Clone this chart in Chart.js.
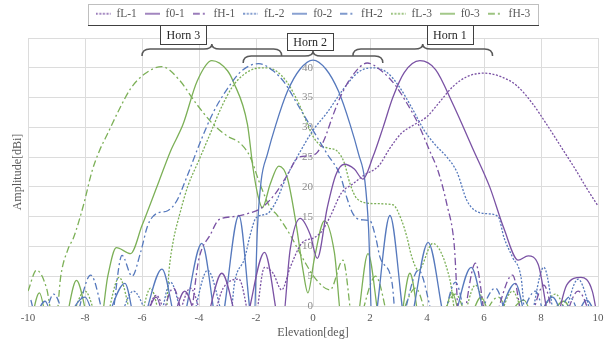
<!DOCTYPE html>
<html>
<head>
<meta charset="utf-8">
<script src="https://cdn.jsdelivr.net/npm/chart.js@4.4.1/dist/chart.umd.min.js"></script>
<style>
    html, body { margin: 0; padding: 0; background: #ffffff; }
</style>
</head>
<body>
<canvas id="pattern-chart" width="610" height="340"></canvas>
<script>
// Horn 1 (purple)
const elev_fL1 = [-6.0, -5.5, -4.95, -4.3, -3.7, -3.15, -2.6, -2.1, -1.7, -1.4, -1.1, -0.8, -0.4, 0.05, 0.3, 0.6, 1.0, 1.4, 1.8, 2.3, 2.7, 3.1, 3.5, 4.0, 4.4, 4.9, 5.4, 6.0, 6.6, 7.15, 7.7, 8.2, 8.8, 9.2, 9.6, 10.0];
const amp_fL1 = [-4, 1.8, -4, 3, -4, 3, 4.5, -4, 6.5, 5.5, 2.7, 6.5, 10.5, 11.5, 12.5, 15, 19, 20.5, 22, 23.5, 26.5, 29, 30.3, 31.8, 34, 36.8, 38.5, 39.1, 38.5, 37, 34, 30.5, 26, 23, 19.8, 16.8];

const elev_f01 = [-6.0, -5.5, -5.1, -4.5, -3.9, -3.2, -2.5, -1.7, -1.1, -0.8, -0.45, -0.1, 0.15, 0.5, 0.8, 1.1, 1.45, 1.75, 2.1, 2.46, 2.8, 3.2, 3.75, 4.3, 4.9, 5.6, 6.2, 6.7, 7.2, 7.55, 7.9, 8.4, 8.9, 9.4, 9.8, 10.05];
const amp_f01 = [-4, 1.5, -4, 2.5, -4, 5.5, -4, 9, -4, 9.5, 14.7, 12, 8, 16.5, 22, 23.8, 23, 21.3, 25, 30, 35, 39.2, 41.2, 39.7, 34, 26.5, 20, 13, 7.7, 8.4, 7, -4, 3.5, 4.8, 2.5, -4];

const elev_fH1 = [-5.4, -4.9, -4.4, -4.0, -3.6, -3.3, -2.8, -2.3, -1.8, -1.3, -0.9, -0.5, -0.15, 0.15, 0.4, 0.7, 1.0, 1.4, 1.9, 2.4, 2.9, 3.3, 3.65, 4.1, 4.4, 4.7, 4.95, 5.15, 5.7, 6.15, 7.0, 7.45, 8.1, 8.6, 9.3, 9.9];
const amp_fH1 = [-4, 3, -4, 8, 12, 14.5, 15, 15.5, 16.5, 19, 22, 25, 25.2, 25.8, 28, 32, 35.5, 38.8, 40.8, 39.5, 37, 34, 31, 26, 22.5, 17, 10.5, -4, 7.2, -4, 5.2, -4, 3.5, -4, 2.5, -4];

// Horn 2 (blue)
const elev_fL2 = [-6.9, -6.3, -5.5, -5.0, -4.4, -3.7, -2.95, -2.75, -2.4, -2.2, -2.0, -1.6, -1.3, -0.95, -0.5, 0, 0.5, 1.0, 1.6, 2.1, 2.6, 3.0, 3.5, 3.9, 4.3, 4.7, 5.05, 5.4, 5.7, 6.1, 6.5, 6.7, 7.0, 7.3, 7.5, 8.1, 8.6, 9.3, 9.9];
const amp_fL2 = [-4, 2.5, -4, 4, -4, 6, -4, 4, 8, 12, 14.8, 15.5, 17.5, 21.5, 25.5, 29.5, 32.5, 36, 39.3, 40, 39.2, 37, 33, 29.5, 27, 25, 22.5, 17.7, 16, 15.5, 15, 11.5, 8.2, 4.8, -4, 6.5, -4, 4.5, -4];

const elev_f02 = [-9.9, -9.4, -9.0, -8.0, -7.5, -6.6, -6.15, -5.3, -4.7, -3.9, -3.3, -2.6, -2.08, -1.95, -1.82, -1.6, -1.3, -0.9, -0.45, 0, 0.45, 0.9, 1.3, 1.6, 1.82, 1.95, 2.08, 2.7, 3.3, 4.04, 4.75, 5.55, 6.2, 7.1, 7.6, 8.4, 9.0, 9.6, 10.1];
const amp_f02 = [-4, 0.8, -4, 1.5, -4, 3.8, -4, 6.2, -4, 10.5, -4, 15.2, -4, 13, 21, 25.5, 30.5, 36, 39.8, 41.3, 39.8, 36, 30.5, 25.5, 21, 13, -4, 15.2, -4, 10.7, -4, 6.5, -4, 3.8, -4, 1.5, -4, 1, -4];

const elev_fH2 = [-9.9, -9.6, -9.1, -8.5, -7.8, -7.15, -6.7, -6.35, -6.05, -5.8, -5.5, -5.1, -4.8, -4.4, -4.0, -3.5, -3.0, -2.5, -1.9, -1.4, -1.0, -0.5, 0, 0.5, 0.95, 1.2, 1.4, 1.65, 2.0, 2.2, 2.35, 2.77, 2.95, 3.7, 4.4, 5.0, 5.5, 6.4, 7.0, 7.8, 8.3, 9.0, 9.5];
const amp_fH2 = [1, -4, 2, -4, 5.2, -4, 8.5, 5, 9, 13.5, 15.5, 16, 17.5, 22, 27, 32.5, 36.5, 39.5, 40.7, 39.5, 37.5, 33.5, 29.5, 25.5, 22, 18, 15.5, 14.5, 14.3, 11.5, 8.2, 4, -4, 6, -4, 4, -4, 3, -4, 2.5, -4, 1.5, -4];

// Horn 3 (green)
const elev_fL3 = [-8.6, -8.0, -7.4, -6.8, -6.2, -5.7, -5.2, -5.05, -4.9, -4.7, -4.4, -4.0, -3.6, -3.2, -2.8, -2.3, -1.8, -1.3, -0.9, -0.5, 0, 0.25, 0.55, 0.85, 1.1, 1.3, 1.55, 2.1, 2.8, 3.1, 3.3, 3.45, 3.7, 4.2, 4.8, 5.1, 5.7, 6.3, 7.0, 7.6, 8.5, 9.1];
const amp_fL3 = [-4, 2.5, -4, 4.8, -4, 3, -4, 6, 11, 15, 20, 24.5, 29, 33.5, 37, 39.3, 40, 39.5, 37.5, 34, 28.5, 27, 26.5, 26, 24, 20.5, 18, 17.2, 17, 14.5, 11.5, 8.5, 6, 10.5, 4.5, -4, 3.5, -4, 2.5, -4, 2, -4];

const elev_f03 = [-9.95, -9.6, -9.25, -8.8, -8.3, -7.75, -7.5, -7.2, -6.9, -6.4, -6.0, -5.4, -5.0, -4.56, -4.07, -3.55, -3.0, -2.8, -2.3, -2.1, -1.93, -1.78, -1.5, -1.2, -0.9, -0.6, -0.35, -0.18, 0.05, 0.4, 0.75, 1.05, 1.47, 1.93, 2.42, 2.98, 3.4, 3.82, 4.45, 4.88, 5.3, 5.9, 6.4, 7.4, 7.9, 8.8, 9.3];
const amp_f03 = [-4, 2.2, -4, -4, 4.3, -4, -4, 5, 9.8, 8.8, 13.5, 21, 26, 30.5, 37.7, 41.2, 39.5, 37.7, 30.5, 23, 18.5, 16.5, 20.5, 23.5, 21.5, 14, 6, 2.2, 8, 14.3, 9, -4, -4, 8.8, -4, -4, 5.5, -4, -4, 2.3, -4, 1.5, -4, 1, -4, 0.8, -4];

const elev_fH3 = [-10.0, -9.7, -9.35, -9.05, -8.85, -8.6, -8.4, -8.05, -7.75, -7.5, -7.2, -6.8, -6.4, -5.9, -5.3, -4.7, -4.1, -3.5, -3.0, -2.55, -2.2, -1.9, -1.5, -1.3, -1.0, -0.75, -0.3, 0.1, 0.6, 1.05, 1.45, 2.2, 2.8, 3.6, 4.2, 5.0, 5.6, 6.5, 7.0];
const amp_fH3 = [2.5, 6, 3, -4, 5, 9.5, 11.5, 17, 22.7, 26, 29, 33, 36.5, 39, 40.2, 38, 34, 30.5, 28.5, 27.3, 25, 21, 16.5, 15.5, 13.5, 11.5, 7.5, 4.5, 2.7, 7.7, -4, 5, -4, 3, -4, 2, -4, 1.5, -4];

const seriesNames = ['fL-1', 'f0-1', 'fH-1', 'fL-2', 'f0-2', 'fH-2', 'fL-3', 'f0-3', 'fH-3'];
const xTicks = [-10, -8, -6, -4, -2, 0, 2, 4, 6, 8, 10];

// Скобки с подписями рупоров
const hornNames = ['Horn 3', 'Horn 2', 'Horn 1'];
const hornFrom = [-6.0, -2.45, 1.4];
const hornTo = [-1.1, 2.45, 6.3];

const purple = '#7a52a4';
const blue = '#5679bd';
const green = '#7cb057';
const dotted = [2, 1.6];
const dashDot = [7, 3, 2, 3];

const toPoints = (xs, ys) => xs.map((x, i) => ({x: x, y: ys[i]}));

// Значок для легенды: короткая линия с нужным штрихом
const makeLegendIcon = (color, dash) => {
    const icon = document.createElement('canvas');
    icon.width = 15;
    icon.height = 4;
    const c = icon.getContext('2d');
    c.strokeStyle = color;
    c.lineWidth = 1.4;
    c.setLineDash(dash);
    c.beginPath();
    c.moveTo(0, 2);
    c.lineTo(15, 2);
    c.stroke();
    return icon;
};

const makeDataset = (label, xs, ys, color, dash) => ({
    label: label,
    data: toPoints(xs, ys),
    borderColor: color,
    backgroundColor: color,
    borderWidth: 1.3,
    borderDash: dash,
    pointRadius: 0,
    pointStyle: makeLegendIcon(color, dash),
    cubicInterpolationMode: 'monotone',
    fill: false
});

const datasets = [
    makeDataset(seriesNames[0], elev_fL1, amp_fL1, purple, dotted),
    makeDataset(seriesNames[1], elev_f01, amp_f01, purple, []),
    makeDataset(seriesNames[2], elev_fH1, amp_fH1, purple, dashDot),
    makeDataset(seriesNames[3], elev_fL2, amp_fL2, blue, dotted),
    makeDataset(seriesNames[4], elev_f02, amp_f02, blue, []),
    makeDataset(seriesNames[5], elev_fH2, amp_fH2, blue, dashDot),
    makeDataset(seriesNames[6], elev_fL3, amp_fL3, green, dotted),
    makeDataset(seriesNames[7], elev_f03, amp_f03, green, []),
    makeDataset(seriesNames[8], elev_fH3, amp_fH3, green, dashDot)
];

const serif = "'Liberation Serif', 'Times New Roman', serif";
Chart.defaults.font.family = serif;

// Отступ под легендой, чтобы область графика начиналась ниже
const legendSpacingPlugin = {
    id: 'legendSpacingPlugin',
    beforeInit(chart) {
        const originalFit = chart.legend.fit;
        chart.legend.fit = function fit() {
            originalFit.bind(chart.legend)();
            this.height += 8.5;
        };
    }
};

// Рамка легенды, подпись оси Y и скобки рупоров
const decorPlugin = {
    id: 'decorPlugin',
    afterDraw(chart) {
        const ctx = chart.ctx;
        const xScale = chart.scales.x;
        const area = chart.chartArea;
        const boxes = chart.legend.legendHitBoxes;

        let left = Infinity, right = -Infinity, top = Infinity, bottom = -Infinity;
        for (const b of boxes) {
            left = Math.min(left, b.left);
            right = Math.max(right, b.left + b.width);
            top = Math.min(top, b.top);
            bottom = Math.max(bottom, b.top + b.height);
        }
        const lgTop = Math.round(top - 4);
        const lgBottom = Math.round(bottom + 5.5);
        const lgLeft = Math.round(left - 8);
        const lgRight = Math.round(right + 8);

        ctx.save();
        ctx.lineWidth = 1;
        ctx.strokeStyle = '#bfbfbf';
        ctx.strokeRect(lgLeft + 0.5, lgTop + 0.5, lgRight - lgLeft, lgBottom - lgTop);
        ctx.strokeStyle = '#404040';
        ctx.beginPath();
        ctx.moveTo(lgLeft, lgBottom + 0.5);
        ctx.lineTo(lgRight + 1, lgBottom + 0.5);
        ctx.stroke();

        // подпись оси Y
        ctx.fillStyle = '#595959';
        ctx.font = '12px ' + serif;
        ctx.textAlign = 'center';
        ctx.textBaseline = 'middle';
        ctx.translate(18, (area.top + area.bottom) / 2);
        ctx.rotate(-Math.PI / 2);
        ctx.fillText('Amplitude[dBi]', 0, 0);
        ctx.restore();

        // скобки и подписи
        const labelCenter = [-4.55, -0.1, 4.8];
        const braceArm = [49, 56, 49];
        ctx.save();
        ctx.font = '12px ' + serif;
        ctx.textAlign = 'center';
        ctx.textBaseline = 'middle';
        hornNames.forEach((name, i) => {
            const x1 = xScale.getPixelForValue(hornFrom[i]);
            const x2 = xScale.getPixelForValue(hornTo[i]);
            const xm = (x1 + x2) / 2;
            const yArm = braceArm[i];
            const r = 8;

            ctx.strokeStyle = '#595959';
            ctx.lineWidth = 1.5;
            ctx.beginPath();
            ctx.moveTo(x1, yArm + 7);
            ctx.quadraticCurveTo(x1, yArm, x1 + r, yArm);
            ctx.lineTo(xm - r, yArm);
            ctx.quadraticCurveTo(xm, yArm, xm, yArm - 5);
            ctx.quadraticCurveTo(xm, yArm, xm + r, yArm);
            ctx.lineTo(x2 - r, yArm);
            ctx.quadraticCurveTo(x2, yArm, x2, yArm + 7);
            ctx.stroke();

            const cx = xScale.getPixelForValue(labelCenter[i]);
            const w = ctx.measureText(name).width + 12;
            const bTop = i === 1 ? lgBottom + 8 : lgBottom;
            const bBottom = i === 1 ? yArm - 6 : yArm - 5;
            ctx.fillStyle = '#ffffff';
            ctx.fillRect(cx - w / 2, bTop, w, bBottom - bTop);
            ctx.strokeStyle = '#404040';
            ctx.lineWidth = 1;
            ctx.strokeRect(Math.round(cx - w / 2) + 0.5, bTop + 0.5, Math.round(w), bBottom - bTop);
            ctx.fillStyle = '#262626';
            ctx.fillText(name, cx, (bTop + bBottom) / 2 + 1);
        });
        ctx.restore();
    }
};

new Chart(document.getElementById('pattern-chart'), {
    type: 'line',
    data: {datasets: datasets},
    options: {
        responsive: false,
        animation: false,
        layout: {
            padding: {left: 28, right: 12, top: 0, bottom: 0}
        },
        plugins: {
            legend: {
                display: true,
                position: 'top',
                labels: {
                    usePointStyle: true,
                    pointStyleWidth: 15,
                    padding: 8,
                    color: '#595959',
                    font: {family: serif, size: 11.5}
                }
            },
            tooltip: {enabled: false}
        },
        scales: {
            x: {
                type: 'linear',
                min: -10,
                max: 10,
                afterBuildTicks: axis => {
                    axis.ticks = xTicks.map(v => ({value: v}));
                },
                afterFit: axis => {
                    axis.height = 34;
                },
                ticks: {
                    color: '#595959',
                    padding: 6,
                    font: {family: serif, size: 11}
                },
                grid: {color: '#dcdcdc', drawTicks: false},
                border: {color: '#dcdcdc'},
                title: {
                    display: true,
                    text: 'Elevation[deg]',
                    color: '#595959',
                    padding: {top: 1, bottom: 0},
                    font: {family: serif, size: 12}
                }
            },
            y: {
                type: 'linear',
                position: {x: 0},
                min: 0,
                max: 45,
                ticks: {
                    stepSize: 5,
                    color: '#8c8c8c',
                    padding: 3,
                    font: {family: serif, size: 11},
                    callback: v => (v > 40 ? '' : v)
                },
                grid: {color: '#dcdcdc', drawTicks: false},
                border: {color: '#dcdcdc'}
            }
        }
    },
    plugins: [legendSpacingPlugin, decorPlugin]
});
</script>
</body>
</html>
